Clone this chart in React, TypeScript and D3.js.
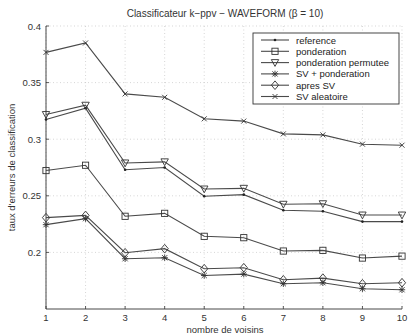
import React from "react";
import * as d3 from "d3";

const neighbours = [1, 2, 3, 4, 5, 6, 7, 8, 9, 10];
const reference = [0.3174, 0.3274, 0.273, 0.275, 0.2496, 0.251, 0.2372, 0.2363, 0.2272, 0.2272];
const ponderation = [0.2723, 0.277, 0.2319, 0.2345, 0.2142, 0.213, 0.2012, 0.2018, 0.195, 0.1967];
const ponderationPermutee = [0.3218, 0.33, 0.279, 0.28, 0.256, 0.2566, 0.2425, 0.243, 0.233, 0.233];
const svPonderation = [0.2245, 0.2298, 0.1944, 0.1953, 0.1796, 0.1808, 0.1723, 0.1732, 0.1679, 0.167];
const apresSV = [0.2307, 0.2327, 0.1997, 0.2033, 0.1856, 0.1865, 0.1758, 0.1773, 0.1723, 0.1732];
const svAleatoire = [0.3767, 0.385, 0.34, 0.337, 0.318, 0.316, 0.3047, 0.3038, 0.2956, 0.2947];
const yTicks = [0.2, 0.25, 0.3, 0.35, 0.4];
const seriesNames = ["reference", "ponderation", "ponderation permutee", "SV + ponderation", "apres SV", "SV aleatoire"];
const seriesMarkers = ["dot", "square", "triangle", "star", "diamond", "x"];
const seriesValues = [reference, ponderation, ponderationPermutee, svPonderation, apresSV, svAleatoire];

const W = 410, H = 335;
const M = { left: 46, right: 6, top: 26, bottom: 26 };
const FONT = "Liberation Sans, Arial, sans-serif";
const LINE = "#4a4a4a";

function Marker({ kind, x, y }: { kind: string; x: number; y: number }) {
  const s = 3.7;
  const common = { fill: "none", stroke: "#333", strokeWidth: 0.9 };
  switch (kind) {
    case "dot":
      return <circle cx={x} cy={y} r={1.3} fill="#222" />;
    case "square":
      return <rect x={x - 3.1} y={y - 3.1} width={6.2} height={6.2} {...common} />;
    case "triangle":
      return <path d={`M${x - s},${y - 3} L${x + s},${y - 3} L${x},${y + 3.8} Z`} {...common} />;
    case "diamond":
      return <path d={`M${x},${y - 4.3} L${x + 3.6},${y} L${x},${y + 4.3} L${x - 3.6},${y} Z`} {...common} />;
    case "x":
      return <path d={`M${x - 2.5},${y - 2.5} L${x + 2.5},${y + 2.5} M${x - 2.5},${y + 2.5} L${x + 2.5},${y - 2.5}`} {...common} />;
    case "star":
      return (
        <path
          d={`M${x - 2.6},${y - 2.6} L${x + 2.6},${y + 2.6} M${x - 2.6},${y + 2.6} L${x + 2.6},${y - 2.6} M${x},${y - 3.2} L${x},${y + 3.2} M${x - 3.2},${y} L${x + 3.2},${y}`}
          {...common}
        />
      );
    default:
      return null;
  }
}

export default function App() {
  const x = d3.scaleLinear().domain([1, 10]).range([M.left, W - M.right - 2]);
  const y = d3.scaleLinear().domain([0.15, 0.4]).range([H - M.bottom, M.top]);
  const line = d3
    .line<number>()
    .x((_, i) => x(neighbours[i]))
    .y((d) => y(d));

  const plotBottom = y(0.15);
  const plotTop = y(0.4);
  const plotRight = x(10);

  const legX = 253, legY = 33, legW = 146, legH = 71;
  const rowH = 11.3;

  return (
    <svg width={W} height={H} style={{ position: "absolute", left: 0, top: 0, background: "#fff" }} fontFamily={FONT}>
      <rect width={W} height={H} fill="#fff" />
      {/* grid */}
      {neighbours.map((n) => (
        <line key={"gx" + n} x1={x(n)} x2={x(n)} y1={plotTop} y2={plotBottom} stroke="#bbb" strokeWidth={0.6} strokeDasharray="1,2.5" />
      ))}
      {yTicks.map((t) => (
        <line key={"gy" + t} x1={M.left} x2={plotRight} y1={y(t)} y2={y(t)} stroke="#bbb" strokeWidth={0.6} strokeDasharray="1,2.5" />
      ))}
      {/* axes */}
      <line x1={M.left} x2={M.left} y1={plotTop} y2={plotBottom} stroke="#333" strokeWidth={0.9} />
      <line x1={M.left} x2={plotRight} y1={plotBottom} y2={plotBottom} stroke="#333" strokeWidth={0.9} />
      {yTicks.map((t) => (
        <g key={"ty" + t}>
          <line x1={M.left} x2={M.left + 3} y1={y(t)} y2={y(t)} stroke="#333" strokeWidth={0.8} />
          <text x={M.left - 5} y={y(t) + 3.5} textAnchor="end" fontSize={9.5} fill="#333">
            {t}
          </text>
        </g>
      ))}
      {neighbours.map((n) => (
        <g key={"tx" + n}>
          <line x1={x(n)} x2={x(n)} y1={plotBottom} y2={plotBottom - 3} stroke="#333" strokeWidth={0.8} />
          <text x={x(n)} y={plotBottom + 11.5} textAnchor="middle" fontSize={9.5} fill="#333">
            {n}
          </text>
        </g>
      ))}
      {/* series */}
      {seriesValues.map((vals, si) => (
        <g key={"s" + si}>
          <path d={line(vals) || ""} fill="none" stroke={LINE} strokeWidth={1.1} />
          {vals.map((v, i) => (
            <Marker key={i} kind={seriesMarkers[si]} x={x(neighbours[i])} y={y(v)} />
          ))}
        </g>
      ))}
      {/* legend */}
      <rect x={legX} y={legY} width={legW} height={legH} fill="#fff" stroke="#333" strokeWidth={0.9} />
      {seriesNames.map((name, i) => {
        const cy = legY + 7 + i * rowH;
        return (
          <g key={"l" + i}>
            <line x1={legX + 8} x2={legX + 36} y1={cy} y2={cy} stroke={LINE} strokeWidth={1.1} />
            <Marker kind={seriesMarkers[i]} x={legX + 22} y={cy} />
            <text x={legX + 43} y={cy + 3.5} fontSize={9.5} fill="#222">
              {name}
            </text>
          </g>
        );
      })}
      {/* titles */}
      <text x={225} y={17} textAnchor="middle" fontSize={10} fill="#333">
        Classificateur k−ppv − WAVEFORM (β = 10)
      </text>
      <text x={225} y={333} textAnchor="middle" fontSize={9.5} fill="#333">
        nombre de voisins
      </text>
      <text transform={`translate(15,${(plotTop + plotBottom) / 2}) rotate(-90)`} textAnchor="middle" fontSize={9.5} fill="#333">
        taux d'erreurs de classification
      </text>
    </svg>
  );
}
